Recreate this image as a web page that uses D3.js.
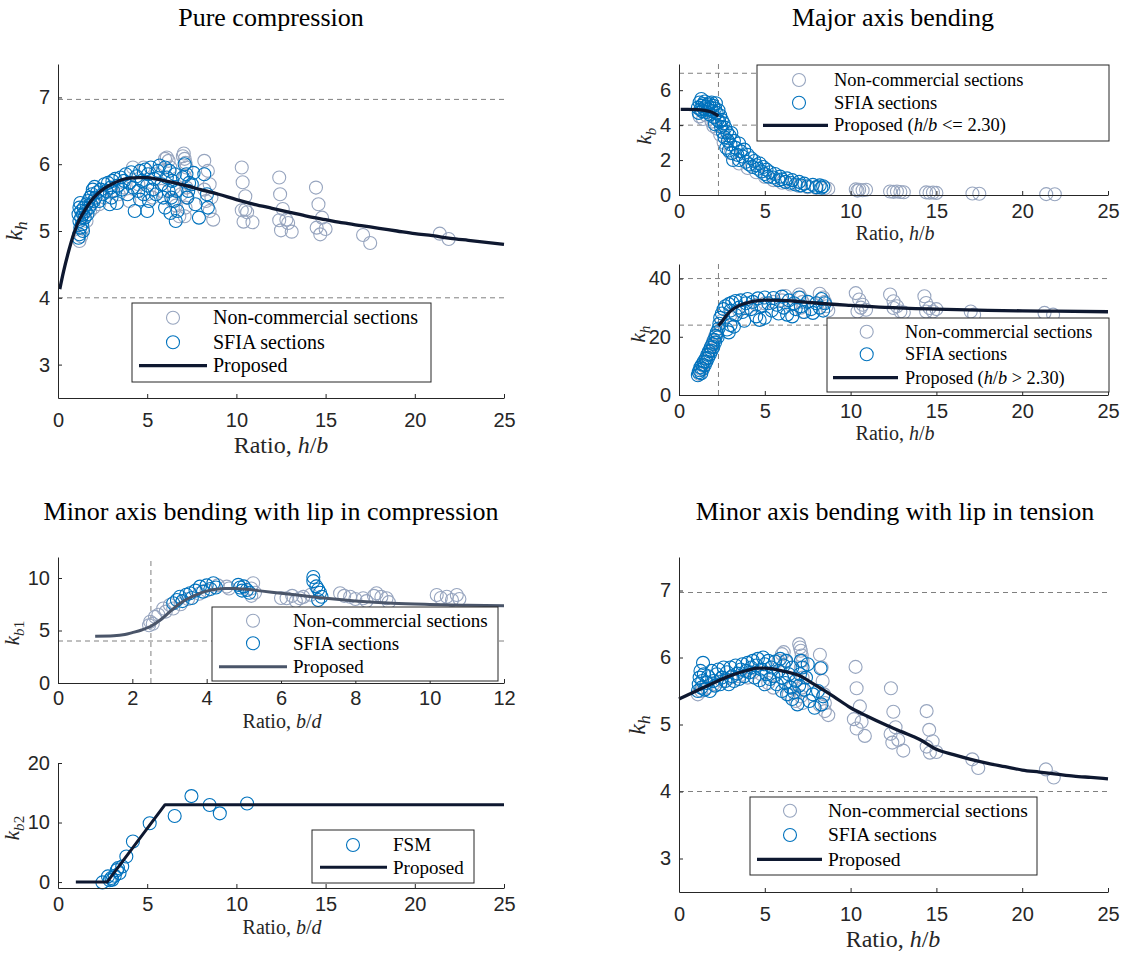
<!DOCTYPE html>
<html><head><meta charset="utf-8">
<script src="https://cdn.jsdelivr.net/npm/d3@7"></script>
<style>body{margin:0;background:#fff}svg{display:block}</style>
</head><body>
<svg id="c" width="1143" height="955"></svg>
<script>
// ---------- DATA ----------
const ticks25 = [0, 5, 10, 15, 20, 25];
const ticks12 = [0, 2, 4, 6, 8, 10, 12];
const pcYTicks = [3, 4, 5, 6, 7];
const mbKbYTicks = [0, 2, 4, 6];
const mbKhYTicks = [0, 20, 40];
const kb1YTicks = [0, 5, 10];
const kb2YTicks = [0, 10, 20];
const plateRefLines = [6.97, 4];
const bendRefLines = [40, 24];
const kb1RefLines = [4];
const majorLimit = 2.3;
const minorLimit = 2.5;

// Pure compression
const pcNonCommercial = [[1.2,4.85],[1.3,4.92],[1.4,5.05],[1.6,5.15],[1.8,5.3],[2.0,5.35],[2.3,5.4],[2.6,5.5],[3.0,5.6],[3.4,5.55],[3.7,5.65],[4.0,5.45],[4.2,5.95],[4.5,5.7],[4.8,5.95],[5.0,5.55],[5.3,5.5],[5.5,5.85],[5.8,5.6],[6.0,6.08],[6.1,6.1],[6.2,6.05],[6.3,5.95],[6.4,5.45],[6.5,5.65],[6.6,5.38],[6.8,5.22],[6.9,5.55],
 [7.0,6.12],[7.05,6.16],[7.1,6.08],[7.15,6.02],[7.2,5.95],[7.1,5.82],[7.2,5.65],[7.2,5.5],[7.15,5.35],[7.1,5.22],
 [8.2,6.05],[8.4,5.9],[8.5,5.7],[8.3,5.45],[8.6,5.5],[8.5,5.3],[8.7,5.17],[8.2,5.62],
 [10.3,5.95],[10.35,5.73],[10.5,5.52],[10.3,5.31],[10.5,5.32],[10.4,5.14],[10.9,5.13],[10.6,5.28],
 [12.4,5.8],[12.45,5.55],[12.6,5.33],[12.4,5.16],[12.5,5.01],[12.8,5.17],[12.9,5.12],[13.1,4.99],
 [14.46,5.65],[14.6,5.4],[14.8,5.2],[14.5,5.05],[14.7,4.95],[15.0,5.03],
 [17.1,4.94],[17.5,4.82],[21.4,4.96],[21.9,4.88]];
const pcSFIA = [[1.15,4.9],[1.2,4.95],[1.25,5.05],[1.2,5.15],[1.15,5.25],[1.2,5.35],[1.25,5.42],[1.3,5.2],[1.35,5.1],[1.3,5.3],[1.4,5.0],[1.4,5.25],[1.45,5.35],
 [1.5,5.2],[1.55,5.3],[1.6,5.4],[1.65,5.25],[1.7,5.45],[1.75,5.35],[1.8,5.5],[1.85,5.4],[1.9,5.55],[1.95,5.62],[2.0,5.45],[2.05,5.66],[2.1,5.5],
 [2.2,5.58],[2.3,5.45],[2.4,5.62],[2.5,5.55],[2.6,5.7],[2.7,5.6],[2.8,5.72],[2.9,5.4],[2.95,5.65],[3.0,5.5],[3.05,5.75],
 [3.1,5.6],[3.2,5.78],[3.3,5.42],[3.35,5.68],[3.5,5.8],[3.6,5.62],[3.7,5.75],[3.8,5.85],[3.9,5.55],[4.0,5.72],[4.1,5.88],
 [4.2,5.65],[4.3,5.3],[4.4,5.82],[4.5,5.6],[4.6,5.9],[4.6,5.47],[4.7,5.75],[4.8,5.55],[4.9,5.92],[5.0,5.3],[5.0,5.68],[5.05,5.85],[5.1,5.45],
 [5.2,5.95],[5.3,5.62],[5.4,5.78],[5.5,5.55],[5.6,5.9],[5.7,5.98],[5.8,5.7],[5.9,5.5],[6.0,5.35],[6.0,5.95],[6.1,5.8],[6.2,5.6],[6.25,5.9],[6.3,5.27],[6.35,5.5],[6.4,5.75],[6.5,5.45],[6.55,5.85],[6.6,5.15],[6.65,5.6],[6.7,5.3],
 [7.0,5.8],[7.1,6.0],[7.2,5.85],[7.25,5.5],[7.3,5.6],[7.35,5.72],[7.5,5.7],[7.6,5.87],[7.7,5.4],[7.9,5.2],[8.2,5.85],[8.35,5.55],[8.4,5.35]];
const pcProposedX = [0.1,0.3,0.6,0.9,1.2,1.5,2,2.5,3,3.5,4,4.5,5,5.5,6,7,8,9,10,11,12,13,14,15,16,17,18,19,20,21,22,23,24,25];
const pcProposedY = [4.13,4.38,4.7,4.97,5.17,5.31,5.5,5.62,5.7,5.76,5.79,5.8,5.8,5.78,5.75,5.69,5.62,5.55,5.47,5.4,5.34,5.28,5.22,5.17,5.12,5.08,5.04,5.0,4.96,4.93,4.89,4.86,4.83,4.8];

// Major axis bending, k_b
const mbKbNonCommercial = [[1.2,4.5],[1.4,4.35],[1.6,4.55],[1.9,4.2],[2.0,3.95],[2.2,3.8],[2.4,3.45],[2.6,3.0],[3.0,2.4],[3.5,1.8],[4.0,1.55],[4.5,1.3],[5.0,1.05],[5.5,0.85],[6.0,0.7],[6.5,0.6],[7.0,0.52],[7.5,0.45],[8.0,0.4],[8.5,0.4],[8.7,0.35],
 [10.3,0.32],[10.4,0.25],[10.5,0.3],[10.7,0.27],[10.9,0.3],[12.3,0.2],[12.5,0.18],[12.7,0.2],[12.9,0.17],[13.1,0.16],[14.4,0.15],[14.6,0.13],[14.8,0.14],[15.0,0.12],[17.1,0.09],[17.5,0.07],[21.4,0.05],[21.9,0.04]];
const mbKbSFIA = [[1.1,5.0],[1.15,4.7],[1.2,5.3],[1.25,4.9],[1.3,5.5],[1.3,5.1],[1.35,4.8],[1.4,5.2],[1.45,4.95],[1.5,5.35],[1.55,5.05],[1.6,4.75],[1.65,5.15],[1.7,4.9],[1.75,5.25],[1.8,4.6],[1.85,5.0],[1.9,5.3],[1.95,4.8],[2.0,5.1],[2.05,4.45],[2.1,4.95],[2.1,4.05],[2.15,5.25],[2.2,4.7],[2.25,4.3],[2.3,4.85],[2.35,4.2],[2.4,4.55],[2.45,3.9],[2.5,4.3],[2.55,3.6],[2.6,4.1],[2.65,3.3],[2.7,3.85],[2.75,2.7],[2.8,3.6],[2.85,3.1],[2.9,2.55],[2.95,3.4],[3.0,2.9],[3.05,3.55],[3.1,2.4],[3.15,2.0],[3.2,3.1],[3.3,2.7],[3.4,2.3],[3.5,2.95],[3.5,2.0],[3.6,2.5],[3.7,2.2],[3.8,2.6],[3.9,1.9],[4.0,2.3],[4.1,1.75],[4.2,2.1],[4.3,1.6],[4.4,1.95],[4.5,1.7],[4.6,1.5],[4.7,1.8],[4.8,1.35],[4.9,1.6],[5.0,1.2],[5.1,1.45],[5.2,1.05],[5.3,1.3],[5.5,1.0],[5.6,1.2],[5.8,0.85],[5.9,1.05],[6.0,0.9],[6.2,0.75],[6.3,0.95],[6.5,0.7],[6.6,0.85],[6.8,0.6],[7.0,0.75],[7.1,0.55],[7.3,0.65],[7.5,0.5],[7.8,0.58],[8.0,0.45],[8.2,0.55],[8.3,0.42],[8.4,0.5]];
const mbKbProposedX = [0.1,0.5,1,1.5,1.8,2.0,2.15,2.3];
const mbKbProposedY = [4.9,4.9,4.89,4.84,4.78,4.7,4.62,4.52];

// Major axis bending, k_h
const mbKhNonCommercial = [[1.2,7.2],[1.3,8.8],[1.4,10.0],[1.5,11.2],[1.6,12.5],[1.7,14.0],[1.8,15.5],[1.9,17.0],[2.0,18.5],[2.1,20.0],[2.2,21.0],[2.5,25.5],[3.0,27.5],[3.5,29.0],[4.0,30.0],[4.5,31.0],[5.0,31.5],[5.5,32.0],[6.0,32.5],[6.2,34.0],[6.5,31.0],[7.0,34.5],[7.1,33.5],[7.2,32.0],[7.1,30.0],[7.2,28.5],[8.2,34.8],[8.4,33.5],[8.5,32.0],[8.6,30.5],[8.7,29.0],
 [10.3,35.0],[10.5,32.8],[10.7,31.0],[10.9,29.3],[10.4,28.7],[10.6,30.0],
 [12.3,34.5],[12.5,32.2],[12.7,30.5],[12.9,28.7],[12.5,29.9],[13.1,28.3],
 [14.3,33.9],[14.4,31.6],[14.6,29.9],[14.8,28.7],[14.4,28.7],[15.0,29.5],
 [17.0,28.7],[17.2,27.6],[21.3,28.2],[21.8,27.6]];
const mbKhSFIA = [[1.1,6.8],[1.15,7.8],[1.2,8.5],[1.25,9.5],[1.3,7.5],[1.35,10.5],[1.4,9.0],[1.45,11.5],[1.5,10.2],[1.55,12.5],[1.6,11.5],[1.65,13.8],[1.7,12.8],[1.75,15.0],[1.8,14.0],[1.85,16.3],[1.9,15.2],[1.95,17.5],[2.0,16.5],[2.05,19.0],[2.1,18.0],[2.15,20.3],[2.2,21.5],[2.25,19.8],[2.3,22.8],[2.35,24.5],[2.4,26.5],[2.5,28.0],[2.6,29.5],[2.7,30.5],[2.8,22.5],[2.9,21.5],[2.9,31.2],[3.0,24.0],[3.0,29.0],[3.1,31.8],[3.2,23.5],[3.3,27.5],[3.3,32.3],[3.5,30.0],[3.6,32.5],[3.7,28.5],[3.8,25.5],[3.9,31.5],[4.0,33.0],[4.2,29.5],[4.3,32.0],[4.5,27.0],[4.6,33.2],[4.7,25.8],[4.8,30.5],[5.0,26.5],[5.0,33.5],[5.2,31.5],[5.4,29.0],[5.5,33.3],[5.7,31.0],[5.8,28.0],[6.0,33.8],[6.1,30.0],[6.3,27.6],[6.4,32.5],[6.6,27.0],[6.7,31.5],[6.8,29.5],[7.0,33.5],[7.1,30.5],[7.3,28.5],[7.5,32.0],[7.7,29.5],[7.8,28.2],[8.0,31.5],[8.2,30.0],[8.3,33.0],[8.4,29.0],[8.5,31.5]];
const mbKhProposedX = [2.3,2.5,2.75,3,3.5,4,4.5,5,6,7,8,10,12,15,18,20,22,25];
const mbKhProposedY = [23.8,25.2,27.2,28.8,30.7,31.7,32.3,32.6,32.5,32.1,31.6,30.8,30.1,29.5,29.1,28.9,28.8,28.6];

// Minor axis bending, lip in compression, k_b1
const kb1NonCommercial = [[2.45,5.5],[2.48,5.83],[2.55,5.65],[2.61,6.3],[2.7,6.5],[2.83,7.1],[2.9,6.8],[3.01,7.43],[3.1,7.1],[3.3,7.5],[3.5,8.0],[3.8,8.5],[4.0,8.8],[4.3,9.3],[4.54,9.18],[4.6,9.0],[5.2,9.0],[5.25,9.5],[5.3,8.6],[5.2,8.3],[6.0,8.1],[6.15,8.07],[6.3,8.3],[6.4,7.8],[6.51,8.07],[6.6,8.2],[6.8,8.4],[7.59,8.55],[7.7,8.3],[7.86,8.22],[8.0,8.0],[8.21,8.07],[8.3,7.8],[8.5,8.3],[8.57,8.55],[8.7,8.2],[8.84,8.07],[8.9,7.7],[10.19,8.38],[10.3,8.1],[10.46,8.22],[10.6,7.9],[10.73,8.38],[10.8,8.0]];
const kb1SFIA = [[3.1,7.6],[3.2,7.9],[3.28,8.22],[3.35,7.8],[3.45,8.4],[3.55,8.55],[3.6,8.1],[3.7,8.8],[3.82,9.18],[3.9,8.7],[4.0,9.3],[4.1,8.95],[4.18,9.5],[4.25,9.1],[4.85,9.35],[4.9,9.1],[4.95,8.8],[5.0,9.2],[5.08,8.86],[5.15,8.6],[6.87,10.1],[6.87,9.7],[6.95,9.2],[7.0,8.9],[7.05,8.6],[7.09,8.22],[7.0,7.9]];
const kb1ProposedX = [1,1.5,1.8,2,2.25,2.5,2.75,3,3.25,3.5,3.75,4,4.25,4.5,4.75,5,5.5,6,6.5,7,7.5,8,8.5,9,10,11,12];
const kb1ProposedY = [4.46,4.5,4.62,4.8,5.05,5.4,6.0,6.75,7.5,8.05,8.45,8.75,8.92,9.0,9.0,8.95,8.75,8.55,8.35,8.15,7.97,7.82,7.7,7.6,7.48,7.4,7.35];

// Minor axis bending, lip in compression, k_b2
const kb2FSM = [[2.49,-0.06],[2.8,0.95],[2.9,0.3],[2.99,0.67],[3.05,0.4],[3.18,1.06],[3.3,2.0],[3.36,2.34],[3.45,1.5],[3.6,2.6],[3.83,4.3],[4.2,6.8],[5.14,9.87],[6.54,11.1],[7.48,14.44],[8.5,12.94],[9.07,11.54],[10.6,13.2]];
const kb2ProposedX = [1, 2.75, 6, 25];
const kb2ProposedY = [0, 0, 13, 13];

// Minor axis bending, lip in tension
const mtNonCommercial = [[1.1,5.45],[1.3,5.5],[1.6,5.55],[2.0,5.6],[2.5,5.65],[3.0,5.7],[3.5,5.72],[4.0,5.7],[4.3,5.78],[4.8,5.75],[5.2,5.62],[5.5,5.55],[5.8,5.95],[6.0,6.05],[6.1,6.08],[6.2,5.95],[6.4,5.45],[6.6,5.55],[6.8,5.35],
 [7.0,6.2],[7.05,6.15],[7.1,6.1],[7.15,6.03],[7.2,5.95],[7.1,5.85],[7.2,5.7],[7.15,5.55],[7.1,5.42],[7.2,5.32],
 [8.21,6.04],[8.31,5.85],[8.37,5.65],[8.45,5.45],[8.5,5.32],[8.7,5.14],[8.21,5.29],[8.5,5.2],
 [10.29,5.86],[10.35,5.54],[10.54,5.27],[10.19,5.08],[10.35,4.94],[10.83,4.83],[10.64,5.04],
 [12.35,5.54],[12.49,5.19],[12.62,4.96],[12.33,4.86],[12.43,4.73],[12.78,4.77],[13.07,4.61],
 [14.43,5.2],[14.58,4.92],[14.78,4.75],[14.43,4.67],[14.62,4.58],[15.0,4.59],
 [17.09,4.48],[17.44,4.35],[21.38,4.33],[21.84,4.21]];
const mtSFIA = [[1.1,5.5],[1.15,5.6],[1.2,5.7],[1.25,5.8],[1.3,5.55],[1.35,5.65],[1.4,5.92],[1.45,5.75],[1.5,5.52],[1.6,5.62],[1.7,5.72],[1.8,5.5],[1.9,5.8],[2.0,5.65],[2.1,5.58],[2.2,5.75],[2.3,5.82],[2.4,5.6],[2.5,5.7],[2.6,5.85],[2.7,5.65],[2.8,5.78],[2.9,5.6],[3.0,5.85],[3.1,5.72],[3.2,5.65],[3.3,5.88],[3.4,5.76],[3.5,5.68],[3.6,5.82],[3.7,5.9],[3.8,5.72],[3.9,5.8],[4.0,5.92],[4.1,5.78],[4.2,5.85],[4.3,5.95],[4.4,5.7],[4.5,5.88],[4.6,5.98],[4.7,5.66],[4.8,5.82],[4.9,6.0],[5.0,5.6],[5.0,5.9],[5.1,5.75],[5.2,5.95],[5.3,5.68],[5.4,5.85],[5.5,5.72],[5.6,5.94],[5.7,5.6],[5.8,5.8],[5.9,5.98],[6.0,5.7],[6.0,5.5],[6.1,5.88],[6.2,5.62],[6.25,5.95],[6.3,5.45],[6.4,5.75],[6.5,5.55],[6.6,5.38],[6.6,5.85],[6.7,5.48],[6.8,5.65],[6.9,5.3],[7.0,5.58],[7.05,5.75],[7.1,5.95],[7.2,5.85],[7.3,5.52],[7.4,5.7],[7.5,5.9],[7.6,5.35],[7.8,5.45],[7.9,5.25],[8.1,5.5],[8.25,5.84],[8.3,5.3],[8.4,5.42]];
const mtProposedX = [0,1,2,3,4,4.6,5,6,7,8,9,10,11,12,13,14,15,16,17,18,19,20,21,22,23,24,25];
const mtProposedY = [5.38,5.5,5.62,5.73,5.81,5.84,5.84,5.8,5.73,5.58,5.42,5.25,5.12,5.0,4.89,4.78,4.63,4.55,4.48,4.42,4.37,4.32,4.29,4.26,4.23,4.21,4.19];

// ---------- DRAWING ----------
const svg = d3.select('#c');
const GREY = '#97a5bf', BLUE = '#0072BD', NAVY = '#0e1830', SLATE = '#4a5569', AX = '#262626', DASH = '#808080';
const SERIF = '"Liberation Serif","Times New Roman",serif';
const SANS = '"Liberation Sans",Arial,Helvetica,sans-serif';
const MR = 6.5;

function rich(t, parts) {
  parts.forEach(p => {
    const s = t.append('tspan').text(p[0]);
    if (p[1]) s.style('font-style', 'italic');
  });
}

function title(txt, cx, y) {
  svg.append('text').attr('x', cx).attr('y', y).attr('text-anchor', 'middle')
    .style('font-family', SERIF).style('font-size', '26px').attr('fill', '#000').text(txt);
}

function panel(c) {
  const x = d3.scaleLinear().domain(c.xd).range([c.l, c.r]);
  const y = d3.scaleLinear().domain(c.yd).range([c.b, c.t]);
  const g = svg.append('g');
  (c.hl || []).forEach(v => g.append('line').attr('x1', c.l).attr('x2', c.r).attr('y1', y(v)).attr('y2', y(v))
    .attr('stroke', DASH).attr('stroke-width', 1).attr('stroke-dasharray', '5,4'));
  (c.vl || []).forEach(v => g.append('line').attr('x1', x(v)).attr('x2', x(v)).attr('y1', c.b).attr('y2', c.t)
    .attr('stroke', DASH).attr('stroke-width', 1).attr('stroke-dasharray', '5,4'));
  c.series.forEach(s => {
    g.append('g').selectAll('circle').data(s.data).enter().append('circle')
      .attr('cx', d => x(d[0])).attr('cy', d => y(d[1])).attr('r', MR)
      .attr('fill', 'none').attr('stroke', s.color).attr('stroke-width', 1.1);
  });
  c.curves.forEach(cv => {
    const pts = cv.xs.map((v, i) => [v, cv.ys[i]]);
    const line = d3.line().x(d => x(d[0])).y(d => y(d[1])).curve(cv.linear ? d3.curveLinear : d3.curveMonotoneX);
    g.append('path').attr('d', line(pts)).attr('fill', 'none').attr('stroke', cv.color)
      .attr('stroke-width', cv.w).attr('stroke-linejoin', 'round');
  });
  const ax = d3.axisBottom(x).tickValues(c.xt).tickFormat(d3.format('d')).tickSizeInner(-4).tickSizeOuter(0).tickPadding(c.xp);
  const ay = d3.axisLeft(y).tickValues(c.yt).tickFormat(d3.format('d')).tickSizeInner(-4).tickSizeOuter(0).tickPadding(8);
  const gx = g.append('g').attr('transform', `translate(0,${c.b})`).call(ax);
  const gy = g.append('g').attr('transform', `translate(${c.l},0)`).call(ay);
  [gx, gy].forEach(a => {
    a.select('.domain').attr('stroke', AX);
    a.selectAll('.tick line').attr('stroke', AX);
    a.selectAll('text').attr('fill', AX).style('font-family', SANS).style('font-size', '20px');
  });
  // x label
  const xl = g.append('text').attr('x', c.xlx).attr('y', c.xly).attr('text-anchor', 'middle')
    .style('font-family', SERIF).style('font-size', c.lfs + 'px').attr('fill', AX);
  rich(xl, [['Ratio, ', false], [c.xv[0], true], ['/', false], [c.xv[1], true]]);
  // y label
  const yl = g.append('text').attr('transform', `translate(${c.ylx},${c.yly}) rotate(-90)`).attr('text-anchor', 'middle')
    .style('font-family', SERIF).style('font-size', c.yfs + 'px').attr('fill', AX);
  yl.append('tspan').text('k').style('font-style', 'italic');
  const sub = yl.append('tspan').attr('dy', '0.3em').style('font-size', (c.yfs * 0.72) + 'px');
  sub.append('tspan').text(c.ysub[0]).style('font-style', 'italic');
  if (c.ysub[1]) sub.append('tspan').text(c.ysub[1]);
  // legend
  const L = c.leg;
  g.append('rect').attr('x', L.x0).attr('y', L.y0).attr('width', L.x1 - L.x0).attr('height', L.y1 - L.y0)
    .attr('fill', '#fff').attr('stroke', AX).attr('stroke-width', 1);
  L.items.forEach(it => {
    if (it.marker) {
      g.append('circle').attr('cx', L.mx).attr('cy', it.y).attr('r', MR).attr('fill', 'none').attr('stroke', it.color).attr('stroke-width', 1.1);
    } else {
      g.append('line').attr('x1', L.lx0).attr('x2', L.lx1).attr('y1', it.y).attr('y2', it.y).attr('stroke', it.color).attr('stroke-width', it.w);
    }
    const t = g.append('text').attr('x', L.tx).attr('y', it.y).attr('dy', '0.33em')
      .style('font-family', SERIF).style('font-size', L.fs + 'px').attr('fill', '#000');
    rich(t, it.parts);
  });
}

const legStd = (ys, lineColor, lineW, propParts) => [
  {marker: true, color: GREY, y: ys[0], parts: [['Non-commercial sections', false]]},
  {marker: true, color: BLUE, y: ys[1], parts: [['SFIA sections', false]]},
  {marker: false, color: lineColor, w: lineW, y: ys[2], parts: propParts}
];

title('Pure compression', 271, 26);
title('Major axis bending', 893, 26);
title('Minor axis bending with lip in compression', 271, 520);
title('Minor axis bending with lip in tension', 895, 520);

// Panel 1: pure compression
panel({l: 58, r: 504, t: 64, b: 398, xd: [0, 25], yd: [2.5, 7.5], xt: ticks25, yt: pcYTicks, xp: 15,
  hl: plateRefLines,
  series: [{data: pcNonCommercial, color: GREY}, {data: pcSFIA, color: BLUE}],
  curves: [{xs: pcProposedX, ys: pcProposedY, color: NAVY, w: 3.3}],
  xlx: 281, xly: 453, lfs: 24, xv: ['h', 'b'], ylx: 22, yly: 231, yfs: 24, ysub: ['h'],
  leg: {x0: 132, y0: 303, x1: 431, y1: 382, mx: 173, tx: 213, lx0: 139, lx1: 207, fs: 20,
    items: legStd([317.7, 342.3, 365.7], NAVY, 3.3, [['Proposed', false]])}
});

// Panel 2: major axis bending k_b
panel({l: 679, r: 1108, t: 64, b: 195, xd: [0, 25], yd: [0, 7.5], xt: ticks25, yt: mbKbYTicks, xp: 9,
  hl: plateRefLines, vl: [majorLimit],
  series: [{data: mbKbNonCommercial, color: GREY}, {data: mbKbSFIA, color: BLUE}],
  curves: [{xs: mbKbProposedX, ys: mbKbProposedY, color: NAVY, w: 3.3}],
  xlx: 895, xly: 240, lfs: 20, xv: ['h', 'b'], ylx: 651, yly: 136, yfs: 21, ysub: ['b'],
  leg: {x0: 757, y0: 65, x1: 1109, y1: 141, mx: 799, tx: 834, lx0: 763, lx1: 828, fs: 18.5,
    items: legStd([80, 102.7, 125.3], NAVY, 3.3, [['Proposed (', false], ['h', true], ['/', false], ['b', true], [' <= 2.30)', false]])}
});

// Panel 3: major axis bending k_h
panel({l: 679, r: 1108, t: 264, b: 395, xd: [0, 25], yd: [0, 45], xt: ticks25, yt: mbKhYTicks, xp: 9,
  hl: bendRefLines, vl: [majorLimit],
  series: [{data: mbKhNonCommercial, color: GREY}, {data: mbKhSFIA, color: BLUE}],
  curves: [{xs: mbKhProposedX, ys: mbKhProposedY, color: NAVY, w: 3.3}],
  xlx: 895, xly: 440, lfs: 20, xv: ['h', 'b'], ylx: 645, yly: 334, yfs: 21, ysub: ['h'],
  leg: {x0: 827, y0: 318, x1: 1109, y1: 392, mx: 866.7, tx: 905, lx0: 833, lx1: 898, fs: 18.3,
    items: legStd([331.7, 354.3, 377.7], NAVY, 3.3, [['Proposed (', false], ['h', true], ['/', false], ['b', true], [' > 2.30)', false]])}
});

// Panel 4: minor axis bending k_b1
panel({l: 58, r: 504, t: 557, b: 683, xd: [0, 12], yd: [0, 12], xt: ticks12, yt: kb1YTicks, xp: 8,
  hl: kb1RefLines, vl: [minorLimit],
  series: [{data: kb1NonCommercial, color: GREY}, {data: kb1SFIA, color: BLUE}],
  curves: [{xs: kb1ProposedX, ys: kb1ProposedY, color: SLATE, w: 3}],
  xlx: 282, xly: 728, lfs: 20, xv: ['b', 'd'], ylx: 19, yly: 633, yfs: 21, ysub: ['b', '1'],
  leg: {x0: 212, y0: 607, x1: 498, y1: 681, mx: 253, tx: 293, lx0: 219, lx1: 287, fs: 19,
    items: legStd([620.7, 643.3, 666.7], SLATE, 3, [['Proposed', false]])}
});

// Panel 5: minor axis bending k_b2
panel({l: 58, r: 504, t: 763, b: 888, xd: [0, 25], yd: [-1, 20], xt: ticks25, yt: kb2YTicks, xp: 9,
  series: [{data: kb2FSM, color: BLUE}],
  curves: [{xs: kb2ProposedX, ys: kb2ProposedY, color: NAVY, w: 3, linear: true}],
  xlx: 282, xly: 934, lfs: 20, xv: ['b', 'd'], ylx: 19, yly: 828, yfs: 21, ysub: ['b', '2'],
  leg: {x0: 312, y0: 830, x1: 474, y1: 883, mx: 353, tx: 393, lx0: 320, lx1: 387, fs: 19,
    items: [{marker: true, color: BLUE, y: 845, parts: [['FSM', false]]},
            {marker: false, color: NAVY, w: 3, y: 867.3, parts: [['Proposed', false]]}]}
});

// Panel 6: minor axis bending, lip in tension
panel({l: 679, r: 1108, t: 557, b: 892, xd: [0, 25], yd: [2.5, 7.5], xt: ticks25, yt: pcYTicks, xp: 15,
  hl: plateRefLines,
  series: [{data: mtNonCommercial, color: GREY}, {data: mtSFIA, color: BLUE}],
  curves: [{xs: mtProposedX, ys: mtProposedY, color: NAVY, w: 3.3}],
  xlx: 893, xly: 947, lfs: 24, xv: ['h', 'b'], ylx: 645, yly: 725, yfs: 24, ysub: ['h'],
  leg: {x0: 750, y0: 797, x1: 1037, y1: 875, mx: 790, tx: 828, lx0: 757, lx1: 822, fs: 19.5,
    items: legStd([810.7, 835, 859.3], NAVY, 3.3, [['Proposed', false]])}
});
</script>
</body></html>
